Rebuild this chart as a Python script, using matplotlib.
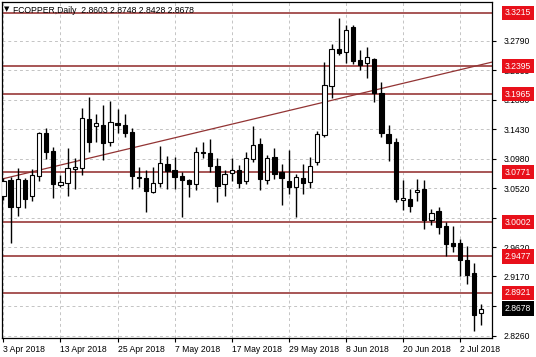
import matplotlib
matplotlib.use('Agg')
import matplotlib.pyplot as plt
import matplotlib.transforms as mtransforms
import numpy as np

plt.rcParams['font.family'] = ['Liberation Sans', 'DejaVu Sans']

# daily FCOPPER candles, 3 Apr 2018 .. 5 Jul 2018
opens = [3.0403, 3.0649, 3.0234, 3.0649, 3.0403, 3.0710, 3.1370, 3.1094, 3.0572, 3.0607,
         3.0813, 3.0828, 3.1584, 3.1477, 3.1492, 3.1236, 3.1518, 3.1492, 3.1380, 3.0690,
         3.0675, 3.0469, 3.0598, 3.0894, 3.0802, 3.0710, 3.0649, 3.0583, 3.1083, 3.1067,
         3.0863, 3.0583, 3.0751, 3.0802, 3.0638, 3.0966, 3.1196, 3.0649, 3.1006, 3.0776,
         3.0638, 3.0537, 3.0675, 3.0623, 3.0929, 3.1339, 3.2091, 3.2654, 3.2617, 3.2991,
         3.2489, 3.2439, 3.2505, 3.1988, 3.1354, 3.1232, 3.0342, 3.0353, 3.0460, 3.0506,
         3.0035, 3.0173, 2.9943, 2.9678, 2.9678, 2.9421, 2.9227, 2.8603]
highs = [3.0679, 3.0695, 3.0833, 3.0679, 3.0817, 3.1390, 3.1446, 3.1155, 3.0725, 3.1140,
         3.0986, 3.1753, 3.1926, 3.1661, 3.1799, 3.1865, 3.1738, 3.1661, 3.1446, 3.0853,
         3.0802, 3.0848, 3.1175, 3.1021, 3.1006, 3.0776, 3.0659, 3.1150, 3.1227, 3.1278,
         3.0986, 3.0802, 3.0982, 3.0879, 3.1083, 3.1477, 3.1288, 3.1032, 3.1135, 3.0894,
         3.1109, 3.0741, 3.0894, 3.0997, 3.1405, 3.2463, 3.2735, 3.3129, 3.3026, 3.3026,
         3.2643, 3.2684, 3.2516, 3.2157, 3.1492, 3.1288, 3.0649, 3.0506, 3.0659, 3.0649,
         3.0199, 3.0239, 3.0009, 2.9943, 2.9744, 2.9636, 2.9380, 2.8748]
lows = [3.0342, 2.9682, 3.0096, 3.0219, 3.0327, 3.0638, 3.0971, 3.0377, 3.0541, 3.0403,
        3.0511, 3.0725, 3.1083, 3.1236, 3.0955, 3.1170, 3.1370, 3.1308, 3.0506, 3.0546,
        3.0162, 3.0445, 3.0546, 3.0506, 3.0506, 3.0076, 3.0383, 3.0495, 3.0982, 3.0776,
        3.0316, 3.0403, 3.0638, 3.0521, 3.0587, 3.0929, 3.0495, 3.0587, 3.0659, 3.0265,
        3.0434, 3.0076, 3.0434, 3.0521, 3.0879, 3.1313, 3.1902, 3.2566, 3.2439, 3.2428,
        3.2336, 3.2209, 3.1850, 3.1304, 3.0948, 3.0316, 3.0188, 3.0162, 3.0331, 2.9892,
        2.9958, 2.9820, 2.9483, 2.9549, 2.9176, 2.9053, 2.8337, 2.8428]
closes = [3.0638, 3.0234, 3.0664, 3.0357, 3.0725, 3.1374, 3.1078, 3.0587, 3.0618, 3.0833,
          3.0853, 3.1604, 3.1236, 3.1523, 3.1221, 3.1534, 3.1492, 3.1374, 3.0710, 3.0675,
          3.0485, 3.0598, 3.0905, 3.0791, 3.0690, 3.0649, 3.0587, 3.1083, 3.1067, 3.0863,
          3.0557, 3.0741, 3.0802, 3.0598, 3.0982, 3.1186, 3.0659, 3.0982, 3.0741, 3.0675,
          3.0546, 3.0699, 3.0607, 3.0863, 3.1354, 3.2106, 3.2658, 3.2601, 3.2950, 3.2474,
          3.2413, 3.2531, 3.1988, 3.1374, 3.1221, 3.0353, 3.0377, 3.0250, 3.0495, 3.0035,
          3.0138, 2.9932, 2.9667, 2.9641, 2.9421, 2.9191, 2.8578, 2.8678]

date_ticks = [0, 8, 16, 24, 32, 40, 48, 56, 64]
date_labels = ['3 Apr 2018', '13 Apr 2018', '25 Apr 2018', '7 May 2018', '17 May 2018',
               '29 May 2018', '8 Jun 2018', '20 Jun 2018', '2 Jul 2018']
price_ticks = [3.2790, 3.2335, 3.1880, 3.1430, 3.0980, 3.0520, 3.0070, 2.9620, 2.9170,
               2.8715, 2.8260]
levels = [3.3215, 3.2395, 3.1965, 3.0771, 3.0002, 2.9477, 2.8921]
last_price = 2.8678
trend_a = (0, 3.0671)
trend_b = (67, 3.2420)

fs = 6.2

fig = plt.figure(figsize=(5.36, 3.57), dpi=100)
ax = fig.add_axes([0.004, 0.053, 0.914, 0.941])

o = np.array(opens)
c = np.array(closes)
h = np.array(highs)
l = np.array(lows)
x = np.arange(len(o))
up = c >= o

ax.vlines(x, l, h, color='black', lw=1, zorder=3)
bottom = np.minimum(o, c)
height = np.maximum(np.abs(c - o), 0.0006)
ax.bar(x[up], height[up], bottom=bottom[up], width=0.6, color='white',
       edgecolor='black', lw=0.8, zorder=4)
ax.bar(x[~up], height[~up], bottom=bottom[~up], width=0.6, color='black',
       edgecolor='black', lw=0.8, zorder=4)

for lv in levels:
    ax.axhline(lv, color='#a04848', lw=1.3, zorder=2)
ax.axline(trend_a, trend_b, color='#923434', lw=0.9, zorder=2)

ax.set_xlim(-0.18, 68.5)
ax.set_ylim(2.8225, 3.3379)

ax.set_xticks(date_ticks)
ax.set_xticklabels(date_labels, ha='left', fontsize=fs)
ax.yaxis.tick_right()
ax.set_yticks(price_ticks)
ax.set_yticklabels(['%.4f' % v for v in price_ticks], fontsize=fs)
ax.tick_params(axis='both', length=3, width=0.8)
ax.tick_params(axis='y', pad=5)
ax.tick_params(axis='x', pad=2)
ax.grid(True, color='#c4c4c4', ls=(0, (3, 3)), lw=0.7, zorder=0)
for sp in ax.spines.values():
    sp.set_linewidth(0.9)

# price boxes on the right scale
trans = mtransforms.blended_transform_factory(ax.transAxes, ax.transData)
lx = 1.0 + 13 / 490
for lv in levels:
    ax.text(lx, lv, '%.4f' % lv, transform=trans, fontsize=fs, color='white',
            va='center', ha='left', clip_on=False, zorder=10,
            bbox=dict(boxstyle='square,pad=0.3', fc='#e8101a', ec='none'))
ax.text(lx, last_price, '%.4f' % last_price, transform=trans, fontsize=fs,
        color='white', va='center', ha='left', clip_on=False, zorder=10,
        bbox=dict(boxstyle='square,pad=0.3', fc='black', ec='none'))

ax.text(0.004, 0.988, '\u25bc', transform=ax.transAxes, fontsize=5, va='top',
        ha='left', zorder=10, family='DejaVu Sans')
ax.text(0.023, 0.990, 'FCOPPER,Daily  2.8603 2.8748 2.8428 2.8678',
        transform=ax.transAxes, fontsize=fs, va='top', ha='left', zorder=10)

fig.savefig('out.png', dpi=100)
